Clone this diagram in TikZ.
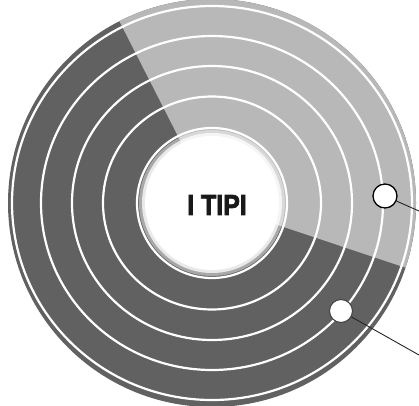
\documentclass[tikz,border=0pt]{standalone}
\usepackage{fontspec}
\newfontfamily\titlefont[FakeStretch=0.86, FakeBold=2.5]{Liberation Sans}
\definecolor{lightsec}{gray}{0.72}
\definecolor{darksec}{gray}{0.38}
\begin{document}
\begin{tikzpicture}[x=1pt,y=-1pt,
  ringline/.style={draw=white, line width=2.2pt},
  marker/.style={circle, fill=white, inner sep=0pt},
  leader/.style={draw=black!85, line width=0.9pt}]
\useasboundingbox (0,0) rectangle (419,405);
\coordinate (C) at (212,203);
% dark sector (whole disc) and light sector
\fill[darksec] (C) ellipse[x radius=204, y radius=204];
\fill[lightsec] (C) -- ++(-117:204 and 204)
  arc[start angle=-117, end angle=18.5, x radius=204, y radius=204] -- cycle;
% white ring lines
\draw[ringline] (C) ellipse[x radius=200, y radius=197];
\draw[ringline] (C) ellipse[x radius=171, y radius=167];
\draw[ringline] (C) ellipse[x radius=140, y radius=137];
\draw[ringline] (C) ellipse[x radius=109, y radius=106.5];
\draw[ringline] (C) circle[radius=75];
% inner white disc with soft edge
\fill[white, opacity=0.45] (C) circle[radius=73];
\fill[white, opacity=0.75] (C) circle[radius=70];
\fill[white] (C) circle[radius=67];
% title
\node[font=\titlefont\bfseries\fontsize{29}{29}\selectfont, text=black!90, inner sep=0pt] (title) at (217,205) {I TIPI};
% markers and leaders
\node[marker, draw=black, line width=1.3pt, minimum size=24pt] (m1) at (385,196) {};
\node[marker, draw=black!75, line width=1pt, minimum size=23pt] (m2) at (341,311) {};
\coordinate (e1) at (419,211);
\coordinate (e2) at (419,355);
\draw[leader] (m1) -- (e1);
\draw[leader] (m2) -- (e2);
\end{tikzpicture}
\end{document}
